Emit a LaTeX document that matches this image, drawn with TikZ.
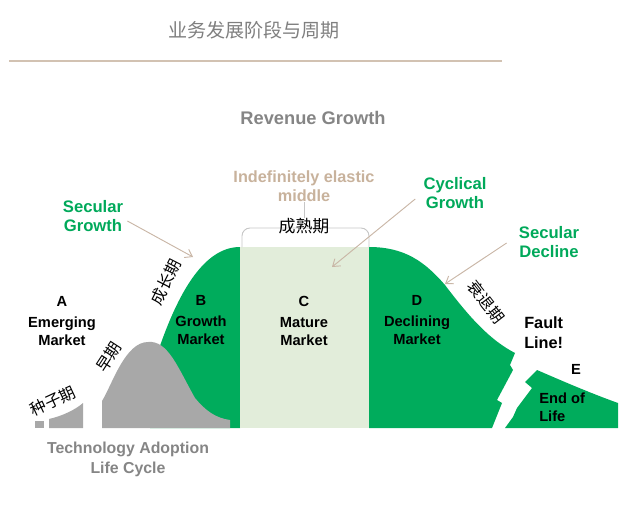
\documentclass[tikz,border=0pt]{standalone}
\usepackage{fontspec}
\setmainfont{Liberation Sans}
\newfontfamily\cjk{Noto Sans CJK SC}
\usetikzlibrary{arrows.meta}
\definecolor{MarketGreen}{HTML}{00AC5C}
\definecolor{TrendGreen}{HTML}{00A95A}
\definecolor{PaleGreen}{HTML}{E2EDDA}
\definecolor{BellGray}{HTML}{A8A8A8}
\definecolor{TitleGray}{HTML}{7F7F7F}
\definecolor{LabelGray}{HTML}{858585}
\definecolor{ElasticBeige}{HTML}{C8B29C}
\definecolor{RuleBeige}{HTML}{D2C2B2}
\definecolor{PointerBeige}{HTML}{C9B6A6}
\definecolor{BracketGray}{HTML}{C6C6C6}

\begin{document}
\begin{tikzpicture}[
  x=0.75pt, y=-0.75pt,
  stagetext/.style={font=\bfseries\fontsize{11}{13.5}\selectfont, align=center, inner sep=0pt},
  trendtext/.style={font=\bfseries\fontsize{12.5}{14.5}\selectfont, align=center, text=TrendGreen, inner sep=0pt},
  phasetext/.style={font=\cjk\fontsize{12}{14}\selectfont, inner sep=0pt},
  pointer/.style={-{Straight Barb[length=5pt,width=7pt]}, line width=0.7pt, draw=PointerBeige},
  bracketline/.style={draw=BracketGray, line width=0.7pt, rounded corners=6pt}
]
\useasboundingbox (0,0) rectangle (642,506);

% heading
\node[font=\cjk\fontsize{14.3}{16}\selectfont, text=TitleGray] (title) at (254,30) {业务发展阶段与周期};
\draw[RuleBeige, line width=0.8pt] (9,61) -- (502,61);

\node[font=\bfseries\fontsize{13.7}{16}\selectfont, text=LabelGray] (revenue) at (313,118) {Revenue Growth};

% market areas
\fill[MarketGreen] (150,428) -- (150,372) .. controls (155,360) .. (161,343)
  .. controls (180,290) and (205,247) .. (240,247) -- (240,428) -- cycle;
\fill[PaleGreen] (240,247) rectangle (369,428);
\fill[MarketGreen] (369,428) -- (369,247) .. controls (405,247) and (425,262) .. (445,285)
  .. controls (470,318) and (490,340) .. (515,353)
  -- (510,365) -- (513,370) -- (497,400) -- (502,403) -- (492,428) -- cycle;
\fill[MarketGreen] (505,428) -- (513,417) -- (517,408) -- (532,388) -- (525,382) -- (537,370)
  .. controls (560,380) and (590,393) .. (618,403) -- (618,428) -- cycle;

% adoption bell
\fill[BellGray] (35,428) rectangle (44,421);
\fill[BellGray] (49,428) -- (49,419) .. controls (62,416) and (75,410) .. (83,403) -- (83,428) -- cycle;
\fill[BellGray] (102,428) -- (102,401) .. controls (112,385) and (125,342) .. (148,342)
  .. controls (168,340) and (178,368) .. (195,398)
  .. controls (205,410) and (215,418) .. (230,420) -- (230,428) -- cycle;

% mature bracket
\draw[bracketline] (242,247) -- (242,228) -- (369,228) -- (369,247);
\node[phasetext, font=\cjk\fontsize{12.7}{14}\selectfont] (mature) at (304,226) {成熟期};
\node[font=\bfseries\fontsize{12.2}{14.3}\selectfont, text=ElasticBeige, align=center, inner sep=0pt]
  (elastic) at (304,186) {Indefinitely elastic\\middle};
\draw[bracketline] (elastic.south) -- (mature.north);

% stage labels
\node[stagetext] (emerging) at (62,321) {A\\[2pt]Emerging\\Market};
\node[stagetext] (growth) at (201,320) {B\\[2pt]Growth\\Market};
\node[stagetext] (matured) at (304,321) {C\\[2pt]Mature\\Market};
\node[stagetext] (declining) at (417,320) {D\\[2pt]Declining\\Market};
\node[stagetext, font=\bfseries\fontsize{12.2}{14.8}\selectfont, align=left, anchor=west] (fault) at (524,333) {Fault\\Line!};
\node[stagetext] (endletter) at (576,369) {E};
\node[stagetext, align=left, anchor=west] (endlife) at (539,407) {End of\\Life};

% phase names
\node[phasetext, rotate=25] (seed) at (53,401) {种子期};
\node[phasetext, rotate=57] (early) at (109,357) {早期};
\node[phasetext, rotate=63] (rise) at (166,282) {成长期};
\node[phasetext, rotate=-52] (fall) at (486,302) {衰退期};

\node[font=\bfseries\fontsize{11.9}{15}\selectfont, text=LabelGray, align=center, inner sep=0pt]
  (adoption) at (128,459) {Technology Adoption\\Life Cycle};

% trends
\node[trendtext] (secgrowth) at (93,216) {Secular\\Growth};
\node[trendtext] (cycgrowth) at (455,193) {Cyclical\\Growth};
\node[trendtext] (secdecline) at (549,242) {Secular\\Decline};

\coordinate (sgTip) at (193,257);
\coordinate (cgTip) at (332,267);
\coordinate (sdTip) at (445,284);

\draw[pointer] ([shift={(4,5)}]secgrowth.east) -- (sgTip);
\draw[pointer] ([shift={(-8,6)}]cycgrowth.west) -- (cgTip);
\draw[pointer] ([shift={(-12,1)}]secdecline.west) -- (sdTip);

\end{tikzpicture}
\end{document}
